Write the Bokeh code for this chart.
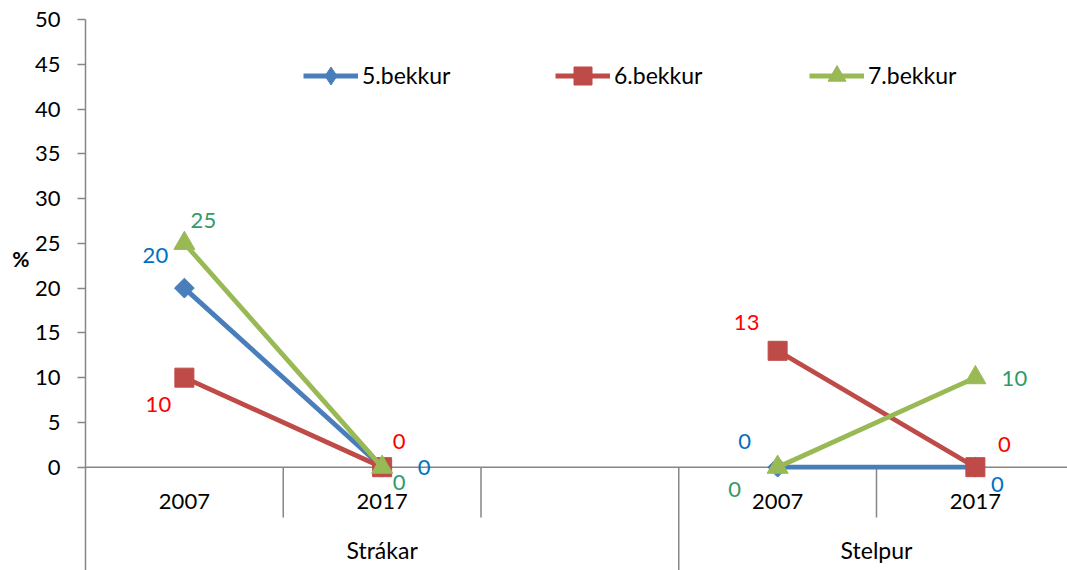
import math
from bokeh.plotting import figure
from bokeh.models import (Range1d, FixedTicker, Legend, LegendItem,
                          ColumnDataSource, Span, LinearAxis)
from bokeh.core.properties import value
from bokeh.embed import file_html
from bokeh.resources import INLINE

nan = float("nan")

# ---------------- data ----------------
categories = ["2007", "2017", "", "2007", "2017"]
groups = ["Strákar", "Stelpur"]
group_sizes = [3, 2]
series_names = ["5.bekkur", "6.bekkur", "7.bekkur"]
bekkur5 = [20, 0, nan, 0, 0]
bekkur6 = [10, 0, nan, 13, 0]
bekkur7 = [25, 0, nan, 0, 10]
y_ticks = list(range(0, 51, 5))

# ---------------- style / layout ----------------
FONT = "Lato"
GRAY = "#868686"
colors = ["#4A7EBB", "#BE4B48", "#98B954"]
label_colors = ["#0070C0", "#FF0000", "#339966"]
W, H = 1067, 570
LEFT, TOP = 85, 19
SLOT_PX = 197.75
frame_w = W - LEFT
frame_h = H - TOP
zero_px = 447.7                      # px from frame top to value 0
px_per_unit = zero_px / 50.0
x_end = frame_w / SLOT_PX
y_start = -(frame_h - zero_px) / px_per_unit

# data-label offsets in screen px (dx right, dy down), per series per category
lbl_dx = [[-29, 42, 0, -33, 22],
          [-26, 17, 0, -31, 29],
          [19, 17, 0, -43, 39]]
lbl_dy = [[-33, 0, 0, -26, 17],
          [27, -26, 0, -28, -23],
          [-23, 15, 0, 22, 1]]

p = figure(width=W, height=H, x_range=Range1d(0, x_end), y_range=Range1d(y_start, 50),
           x_axis_location=None, y_axis_location="left",
           min_border_left=LEFT, min_border_right=0, min_border_top=TOP, min_border_bottom=0,
           output_backend="svg", toolbar_location=None)
p.xgrid.visible = False
p.ygrid.visible = False
p.outline_line_color = None
p.background_fill_color = "white"
p.border_fill_color = "white"

yax = p.yaxis[0]
yax.ticker = FixedTicker(ticks=y_ticks)
yax.axis_line_color = GRAY
yax.axis_line_width = 1.5
yax.major_tick_line_color = GRAY
yax.major_tick_line_width = 1.5
yax.major_tick_out = 8
yax.major_tick_in = 0
yax.minor_tick_line_color = None
yax.major_label_standoff = 17
yax.major_label_text_font = FONT
yax.major_label_text_font_size = "22px"
yax.major_label_text_color = "black"

# "%" title as the label of a second, bare axis (extra blank lines lift it above centre)
NBSP = "\u00a0"
pct_axis = LinearAxis(ticker=FixedTicker(ticks=[]),
                      axis_line_color=None, major_tick_line_color=None,
                      minor_tick_line_color=None, major_label_text_font_size="0px",
                      axis_label="%\n" + NBSP + "\n" + NBSP, axis_label_standoff=2,
                      axis_label_text_font=FONT, axis_label_text_font_style="bold",
                      axis_label_text_font_size="21px", axis_label_text_color="black",
                      axis_label_text_line_height=1.45)
if "axis_label_orientation" in LinearAxis.properties():
    pct_axis.axis_label_orientation = "horizontal"
p.add_layout(pct_axis, "left")

# x axis line
p.add_layout(Span(location=0, dimension="width", line_color=GRAY, line_width=1.5, level="underlay"))

# separators
n = len(categories)
group_bounds = []
acc = 0
for s in group_sizes:
    acc += s
    group_bounds.append(acc)
short_x = [b for b in range(1, n) if b not in group_bounds]
long_x = [b for b in group_bounds if b < n]
short_bottom = -(517 - 466.7) / px_per_unit
p.segment(x0=short_x, y0=[0] * len(short_x), x1=short_x, y1=[short_bottom] * len(short_x),
          line_color=GRAY, line_width=1.5)
p.segment(x0=long_x, y0=[0] * len(long_x), x1=long_x, y1=[y_start] * len(long_x),
          line_color=GRAY, line_width=1.5)

# category labels
xs = [i + 0.5 for i in range(n)]
cat_y = -(501 - 466.7) / px_per_unit
p.text(x=xs, y=[cat_y] * n, text=categories, text_font=value(FONT), text_font_size="22px",
       text_align="center", text_baseline="middle", text_color="black")
gx = []
start = 0
for s in group_sizes:
    gx.append(start + s / 2)
    start += s
grp_y = -(549 - 466.7) / px_per_unit
p.text(x=gx, y=[grp_y] * len(gx), text=groups, text_font=value(FONT), text_font_size="23px",
       text_align="center", text_baseline="middle", text_color="black")

# series
all_vals = [bekkur5, bekkur6, bekkur7]
markers = [("square", 14, math.pi / 4), ("square", 19, 0), ("triangle", 21, 0)]
legend_markers = ["diamond", "square", "triangle"]
renderers = []
for k, vals in enumerate(all_vals):
    src = ColumnDataSource(dict(x=xs, y=vals))
    lr = p.line("x", "y", source=src, line_width=4.8, line_color=colors[k])
    m, sz, ang = markers[k]
    leg_r = None
    if legend_markers[k] != m or ang != 0:
        # legend glyphs are drawn unrotated: a small diamond hidden under the
        # rotated square stands in for it in the legend
        leg_r = p.scatter("x", "y", source=src, marker=legend_markers[k], size=sz,
                          fill_color=colors[k], line_color=colors[k])
    mr = p.scatter("x", "y", source=src, marker=m, size=sz, angle=ang,
                   fill_color=colors[k], line_color=colors[k])
    renderers.append((lr, leg_r if leg_r is not None else mr))

# data labels
for k, vals in enumerate(all_vals):
    lx, ly, lt, ox, oy = [], [], [], [], []
    for i, v in enumerate(vals):
        if isinstance(v, float) and math.isnan(v):
            continue
        lx.append(xs[i]); ly.append(v); lt.append(str(v))
        ox.append(lbl_dx[k][i]); oy.append(lbl_dy[k][i])
    src = ColumnDataSource(dict(x=lx, y=ly, t=lt, ox=ox, oy=oy))
    p.text(x="x", y="y", text="t", x_offset="ox", y_offset="oy", source=src,
           text_font=value(FONT), text_font_size="22px", text_color=label_colors[k],
           text_align="center", text_baseline="middle")

# legends
leg_x = [218, 470, 724]
GH = 45
leg_bottom = H - 75 - GH / 2
for k, name in enumerate(series_names):
    lr, mr = renderers[k]
    leg = Legend(items=[LegendItem(label=name, renderers=[lr, mr])],
                 location=(leg_x[k], leg_bottom), orientation="horizontal",
                 padding=0, margin=0, border_line_color=None, background_fill_alpha=0,
                 glyph_width=55, glyph_height=GH, label_height=GH, label_standoff=4,
                 label_text_font=FONT, label_text_font_size="23px", label_text_color="black")
    p.add_layout(leg)

open("out.html", "w").write(file_html(p, INLINE))
